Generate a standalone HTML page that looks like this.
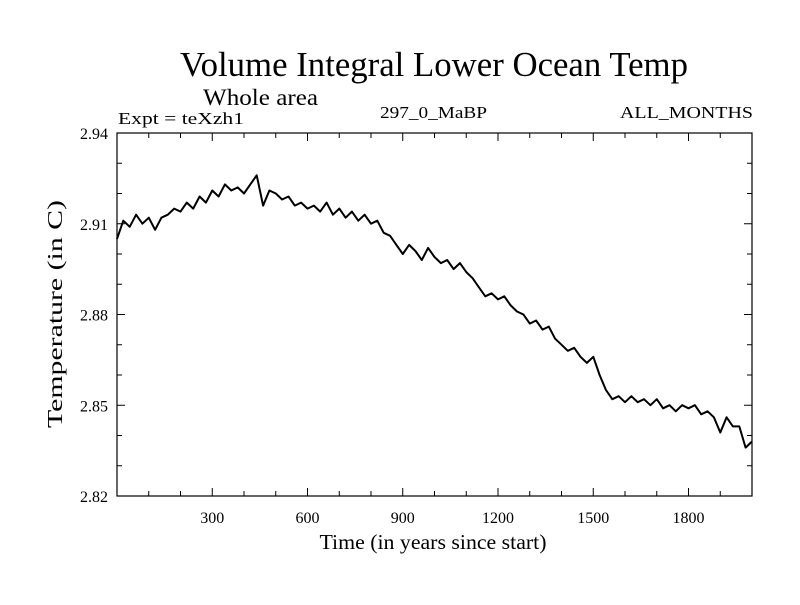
<!DOCTYPE html>
<html><head><meta charset="utf-8"><style>
html,body{margin:0;padding:0;background:#fff;}
svg text{font-family:"Liberation Serif",serif;fill:#000;}
</style></head><body>
<svg width="800" height="600">
<text x="434" y="76" font-size="35" text-anchor="middle" textLength="508" lengthAdjust="spacingAndGlyphs">Volume Integral Lower Ocean Temp</text>
<text x="203" y="105" font-size="23" textLength="115" lengthAdjust="spacingAndGlyphs">Whole area</text>
<text x="118" y="124" font-size="17" textLength="126" lengthAdjust="spacingAndGlyphs">Expt = teXzh1</text>
<text x="380" y="118" font-size="17" textLength="107" lengthAdjust="spacingAndGlyphs">297_0_MaBP</text>
<text x="620" y="118" font-size="17" textLength="133" lengthAdjust="spacingAndGlyphs">ALL_MONTHS</text>
<g id="axes"></g>
<path id="series" fill="none" stroke="#000" stroke-width="2" stroke-linejoin="round"/>
<rect x="117" y="133" width="635" height="363" fill="none" stroke="#000" stroke-width="1.2"/>
<text x="433" y="549" font-size="21" text-anchor="middle" textLength="227" lengthAdjust="spacingAndGlyphs">Time (in years since start)</text>
<text transform="translate(62,314) rotate(-90)" font-size="21" text-anchor="middle" textLength="228" lengthAdjust="spacingAndGlyphs">Temperature (in C)</text>
</svg>
<script>
const years=[0,20,40,60,80,100,120,140,160,180,200,220,240,260,280,300,320,340,360,380,400,420,440,460,480,500,520,540,560,580,600,620,640,660,680,700,720,740,760,780,800,820,840,860,880,900,920,940,960,980,1000,1020,1040,1060,1080,1100,1120,1140,1160,1180,1200,1220,1240,1260,1280,1300,1320,1340,1360,1380,1400,1420,1440,1460,1480,1500,1520,1540,1560,1580,1600,1620,1640,1660,1680,1700,1720,1740,1760,1780,1800,1820,1840,1860,1880,1900,1920,1940,1960,1980,2000];
const temps=[2.905,2.911,2.909,2.913,2.910,2.912,2.908,2.912,2.913,2.915,2.914,2.917,2.915,2.919,2.917,2.921,2.919,2.923,2.921,2.922,2.920,2.923,2.926,2.916,2.921,2.920,2.918,2.919,2.916,2.917,2.915,2.916,2.914,2.917,2.913,2.915,2.912,2.914,2.911,2.913,2.910,2.911,2.907,2.906,2.903,2.900,2.903,2.901,2.898,2.902,2.899,2.897,2.898,2.895,2.897,2.894,2.892,2.889,2.886,2.887,2.885,2.886,2.883,2.881,2.880,2.877,2.878,2.875,2.876,2.872,2.870,2.868,2.869,2.866,2.864,2.866,2.860,2.855,2.852,2.853,2.851,2.853,2.851,2.852,2.850,2.852,2.849,2.850,2.848,2.850,2.849,2.850,2.847,2.848,2.846,2.841,2.846,2.843,2.843,2.836,2.838];
const xTicks=[300,600,900,1200,1500,1800];
const yTicks=[2.82,2.85,2.88,2.91,2.94];
const yTickLabels=["2.82","2.85","2.88","2.91","2.94"];
const X0=117,X1=752,Y0=496,Y1=133;
const xs=v=>X0+(v-0)/(2000-0)*(X1-X0);
const ys=v=>Y0-(v-2.82)/(2.94-2.82)*(Y0-Y1);
const NS="http://www.w3.org/2000/svg";
const g=document.getElementById('axes');
function ln(x1,y1,x2,y2,name){const l=document.createElementNS(NS,'line');l.setAttribute('x1',x1);l.setAttribute('y1',y1);l.setAttribute('x2',x2);l.setAttribute('y2',y2);l.setAttribute('stroke','#000');l.setAttribute('stroke-width','1');


g.appendChild(l);}
function tx(x,y,s,anchor,name){const t=document.createElementNS(NS,'text');t.setAttribute('x',x);t.setAttribute('y',y);t.setAttribute('font-size','16');t.setAttribute('text-anchor',anchor);t.textContent=s;


g.appendChild(t);}
for(let v=100;v<2000;v+=100){const big=v%300===0;const x=xs(v);ln(x,Y0,x,Y0-(big?8:5),'x-tick');ln(x,Y1,x,Y1+(big?8:5),'x-tick-top');}
xTicks.forEach(v=>tx(xs(v),523,String(v),'middle','x-tick-label'));
for(let i=1;i<12;i++){const v=2.82+i*0.01;const big=i%3===0;const y=ys(v);ln(X0,y,X0+(big?8:5),y,'y-tick');ln(X1,y,X1-(big?8:5),y,'y-tick-right');}
yTicks.forEach((v,i)=>tx(108,ys(v)+6,yTickLabels[i],'end','y-tick-label'));
document.getElementById('series').setAttribute('d',years.map((y,i)=>(i?'L':'M')+xs(y).toFixed(1)+','+ys(temps[i]).toFixed(1)).join(''));
</script>
</body></html>
